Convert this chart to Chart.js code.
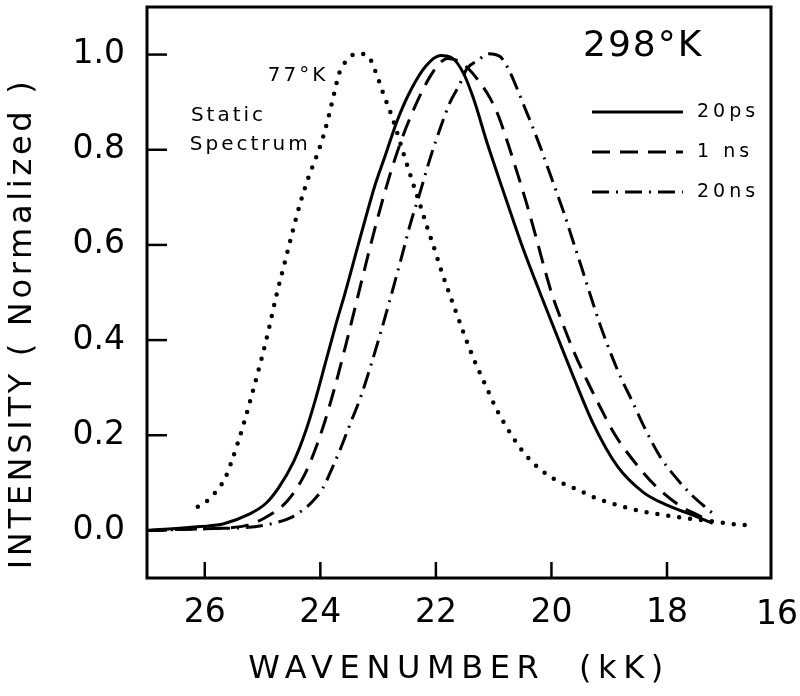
<!DOCTYPE html>
<html lang="en">
<head>
<meta charset="UTF-8">
<title>Intensity vs wavenumber</title>
<script src="https://cdn.jsdelivr.net/npm/chart.js@4"></script>
<style>
  body { margin: 0; background: #fff; }
  canvas { display: block; }
</style>
</head>
<body>
<canvas id="chart" width="800" height="696"></canvas>
<script>
// tick values
const xTicks = [26, 24, 22, 20, 18, 16];
const yTicks = [0, 0.2, 0.4, 0.6, 0.8, 1.0];

// 20 ps (solid)
const ps20X = [27.0, 26.07, 25.67, 25.25, 24.95, 24.72, 24.46, 24.25, 24.08, 23.91, 23.74, 23.56, 23.39, 23.22, 23.05, 22.87, 22.67, 22.44, 22.18, 21.92, 21.71, 21.52, 21.35, 21.11, 20.89, 20.68, 20.49, 20.19, 19.90, 19.62, 19.28, 18.86, 18.41, 18.00, 17.55, 17.21];
const ps20Y = [0, 0.008, 0.014, 0.033, 0.056, 0.090, 0.145, 0.210, 0.277, 0.353, 0.429, 0.504, 0.580, 0.655, 0.727, 0.790, 0.861, 0.924, 0.975, 0.998, 0.992, 0.960, 0.908, 0.813, 0.733, 0.658, 0.592, 0.497, 0.408, 0.323, 0.225, 0.135, 0.080, 0.053, 0.032, 0.015];

// 1 ns (dashed)
const ns1X = [27.0, 26.2, 25.38, 24.98, 24.58, 24.29, 24.12, 23.94, 23.77, 23.60, 23.45, 23.30, 23.15, 23.00, 22.85, 22.70, 22.52, 22.32, 22.12, 21.96, 21.80, 21.60, 21.42, 21.23, 21.06, 20.92, 20.75, 20.57, 20.42, 20.28, 20.14, 19.99, 19.81, 19.62, 19.38, 19.16, 18.90, 18.55, 18.21, 17.78, 17.43, 17.26];
const ns1Y = [0, 0.003, 0.008, 0.025, 0.061, 0.113, 0.160, 0.222, 0.292, 0.370, 0.443, 0.517, 0.590, 0.660, 0.725, 0.784, 0.845, 0.902, 0.950, 0.978, 0.992, 0.986, 0.968, 0.940, 0.908, 0.872, 0.812, 0.743, 0.683, 0.622, 0.559, 0.496, 0.436, 0.378, 0.314, 0.260, 0.201, 0.142, 0.095, 0.052, 0.030, 0.019];

// 20 ns (dash-dot)
const ns20X = [27.0, 25.84, 25.29, 24.81, 24.51, 24.29, 24.12, 23.96, 23.82, 23.65, 23.48, 23.30, 23.13, 22.96, 22.79, 22.61, 22.44, 22.27, 22.10, 21.92, 21.75, 21.59, 21.46, 21.28, 21.09, 20.89, 20.75, 20.61, 20.47, 20.33, 20.19, 20.06, 19.92, 19.78, 19.64, 19.50, 19.33, 19.16, 18.98, 18.81, 18.60, 18.38, 18.12, 17.86, 17.57, 17.21];
const ns20Y = [0, 0.004, 0.006, 0.015, 0.027, 0.044, 0.063, 0.088, 0.124, 0.172, 0.225, 0.281, 0.345, 0.414, 0.487, 0.567, 0.645, 0.712, 0.782, 0.847, 0.901, 0.937, 0.971, 0.987, 1.002, 0.996, 0.971, 0.933, 0.891, 0.849, 0.805, 0.761, 0.714, 0.666, 0.613, 0.561, 0.496, 0.433, 0.374, 0.324, 0.271, 0.214, 0.155, 0.113, 0.074, 0.036];

// 77 K static spectrum (dotted)
const k77X = [26.12, 25.93, 25.79, 25.65, 25.53, 25.41, 25.29, 25.17, 25.03, 24.89, 24.76, 24.62, 24.48, 24.34, 24.20, 24.06, 23.94, 23.84, 23.75, 23.67, 23.55, 23.36, 23.18, 23.05, 22.91, 22.75, 22.56, 22.39, 22.27, 22.15, 22.04, 21.89, 21.75, 21.61, 21.49, 21.32, 21.14, 20.94, 20.71, 20.51, 20.25, 19.94, 19.59, 19.21, 18.85, 18.43, 18.03, 17.64, 17.22, 16.83, 16.62];
const k77Y = [0.050, 0.065, 0.084, 0.109, 0.147, 0.191, 0.239, 0.292, 0.355, 0.424, 0.494, 0.561, 0.628, 0.691, 0.744, 0.788, 0.832, 0.878, 0.924, 0.962, 0.987, 1.002, 0.998, 0.966, 0.918, 0.866, 0.792, 0.727, 0.683, 0.637, 0.597, 0.540, 0.492, 0.445, 0.405, 0.353, 0.305, 0.252, 0.204, 0.168, 0.134, 0.107, 0.088, 0.067, 0.053, 0.040, 0.032, 0.025, 0.019, 0.013, 0.011];

const FONT = "'DejaVu Sans', sans-serif";
const X_MIN = 16.2, X_MAX = 27;
const pts = (xs, ys) => xs.map((x, i) => ({ x, y: ys[i] }));

const drawText = (ctx, text, x, y, size, align, spacing) => {
  ctx.font = `${size}px ${FONT}`;
  ctx.letterSpacing = spacing + 'px';
  ctx.textAlign = align;
  ctx.textBaseline = 'middle';
  ctx.fillText(text, x, y);
  ctx.letterSpacing = '0px';
};

const decor = {
  id: 'decor',
  afterDraw(chart) {
    const ctx = chart.ctx;
    const { left, right, top, bottom } = chart.chartArea;
    const xs = chart.scales.x, ys = chart.scales.y;
    ctx.save();
    ctx.strokeStyle = '#000';
    ctx.fillStyle = '#000';
    ctx.lineWidth = 3;
    ctx.setLineDash([]);
    ctx.strokeRect(left, top, right - left, bottom - top);

    // inward ticks
    ctx.lineWidth = 2.5;
    yTicks.forEach((v) => {
      const py = ys.getPixelForValue(v);
      ctx.beginPath(); ctx.moveTo(left, py); ctx.lineTo(left + 20, py); ctx.stroke();
    });
    xTicks.forEach((v) => {
      const px = xs.getPixelForValue(v);
      if (v < X_MIN || v > X_MAX) {
        // label just past the end of the axis, kept inside the canvas
        drawText(ctx, String(v), Math.min(px, chart.width - 23), bottom + 37, 33, 'center', 0);
        return;
      }
      ctx.beginPath(); ctx.moveTo(px, bottom); ctx.lineTo(px, bottom - 16); ctx.stroke();
    });

    // axis titles
    drawText(ctx, 'WAVENUMBER  (kK)', (left + right) / 2, 670, 32, 'center', 6.6);
    ctx.save();
    ctx.translate(23, (top + bottom) / 2 + 31);
    ctx.rotate(-Math.PI / 2);
    drawText(ctx, 'INTENSITY ( Normalized )', 0, 0, 32, 'center', 3.7);
    ctx.restore();

    // legend
    drawText(ctx, '298°K', right - 188, top + 40, 36, 'left', 2);
    const labels = ['20ps', '1 ns', '20ns'];
    labels.forEach((lab, i) => {
      const ds = chart.data.datasets[i];
      const y = top + 105 + i * 40;
      ctx.lineWidth = ds.borderWidth;
      ctx.setLineDash(ds.borderDash || []);
      ctx.lineCap = ds.borderCapStyle || 'butt';
      ctx.beginPath(); ctx.moveTo(right - 179, y); ctx.lineTo(right - 88, y); ctx.stroke();
      ctx.setLineDash([]);
      drawText(ctx, lab, right - 74, y, 19, 'left', 4);
    });

    // annotations for the static spectrum
    drawText(ctx, '77°K', xs.getPixelForValue(23.86), ys.getPixelForValue(0.955), 20, 'right', 3);
    drawText(ctx, 'Static', xs.getPixelForValue(26.24), ys.getPixelForValue(0.872), 20, 'left', 3);
    drawText(ctx, 'Spectrum', xs.getPixelForValue(26.26), ys.getPixelForValue(0.81), 20, 'left', 3);
    ctx.restore();
  }
};

new Chart(document.getElementById('chart'), {
  type: 'line',
  data: {
    datasets: [
      { label: '20ps', data: pts(ps20X, ps20Y), borderColor: '#000', borderWidth: 3 },
      { label: '1 ns', data: pts(ns1X, ns1Y), borderColor: '#000', borderWidth: 3, borderDash: [18, 10] },
      { label: '20ns', data: pts(ns20X, ns20Y), borderColor: '#000', borderWidth: 3, borderDash: [17, 7, 2, 7] },
      { label: '77°K', data: pts(k77X, k77Y), borderColor: '#000', borderWidth: 4.5, borderDash: [0, 11], borderCapStyle: 'round' }
    ]
  },
  options: {
    responsive: false,
    animation: false,
    devicePixelRatio: 1,
    layout: { padding: { top: 7, right: 29, left: 0, bottom: 0 } },
    elements: {
      point: { radius: 0 },
      line: { cubicInterpolationMode: 'monotone' }
    },
    plugins: { legend: { display: false }, tooltip: { enabled: false } },
    scales: {
      x: {
        type: 'linear',
        reverse: true,
        min: X_MIN,
        max: X_MAX,
        grid: { display: false },
        border: { display: false },
        afterBuildTicks: (s) => {
          s.ticks = xTicks.filter((v) => v >= X_MIN && v <= X_MAX).map((v) => ({ value: v }));
        },
        afterFit: (s) => { s.height = 118; s.paddingLeft = 0; s.paddingRight = 0; },
        ticks: {
          autoSkip: false,
          maxRotation: 0,
          padding: 8,
          color: '#000',
          font: { family: FONT, size: 33 },
          callback: (v) => String(v)
        }
      },
      y: {
        type: 'linear',
        min: -0.1,
        max: 1.1,
        grid: { display: false },
        border: { display: false },
        afterBuildTicks: (s) => { s.ticks = yTicks.map((v) => ({ value: v })); },
        afterFit: (s) => { s.width = 147; s.paddingTop = 0; s.paddingBottom = 0; },
        ticks: {
          padding: 14,
          color: '#000',
          font: { family: FONT, size: 33 },
          callback: (v) => v.toFixed(1)
        }
      }
    }
  },
  plugins: [decor]
});
</script>
</body>
</html>
